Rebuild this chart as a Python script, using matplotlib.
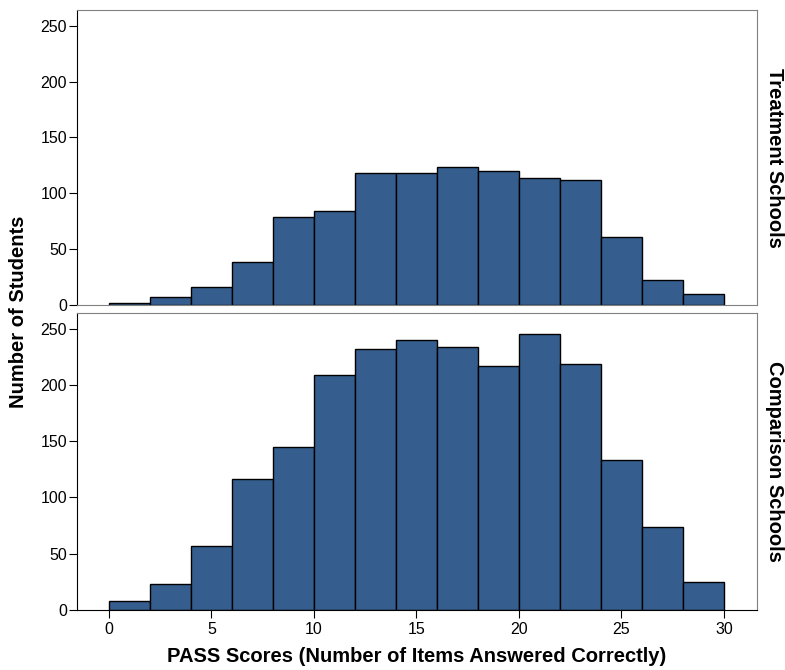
import matplotlib.pyplot as plt
import numpy as np

plt.rcParams['font.family'] = ['Liberation Sans', 'DejaVu Sans']

bin_edges = np.arange(0, 32, 2)
treatment_counts = [2, 7, 16, 38, 79, 84, 118, 118, 123, 120, 114, 112, 61, 22, 10]
comparison_counts = [8, 23, 57, 116, 145, 209, 232, 240, 234, 217, 245, 219, 133, 74, 25]
panel_names = ["Treatment Schools", "Comparison Schools"]

bar_color = "#355e8e"
frame_color = "#808080"

fig = plt.figure(figsize=(7.85, 6.7), dpi=100)
ax1 = fig.add_axes([0.098, 0.545, 0.866, 0.44])
ax2 = fig.add_axes([0.098, 0.0896, 0.866, 0.4434])

for ax, counts, name in [(ax1, treatment_counts, panel_names[0]), (ax2, comparison_counts, panel_names[1])]:
    ax.bar(bin_edges[:-1], counts, width=2, align="edge", color=bar_color,
           edgecolor="black", linewidth=1)
    ax.set_xlim(-1.56, 31.6)
    ax.set_ylim(0, 264)
    ax.set_yticks([0, 50, 100, 150, 200, 250])
    for s in ["top", "right", "bottom"]:
        ax.spines[s].set_color(frame_color)
    ax.spines["left"].set_color("black")
    ax.tick_params(axis="y", labelsize=11.5, length=6, color="black", pad=1)
    ax.text(1.026, 0.5, name, transform=ax.transAxes, rotation=270,
            ha="center", va="center", fontsize=14.5, fontweight="bold")

ax1.tick_params(axis="x", bottom=False, labelbottom=False)
ax2.spines["bottom"].set_color("black")
ax2.set_xticks([0, 5, 10, 15, 20, 25, 30])
ax2.tick_params(axis="x", labelsize=11.5, length=6, color="black", pad=3)

ax2.set_xlabel("PASS Scores (Number of Items Answered Correctly)", fontsize=14.5,
               fontweight="bold", labelpad=7)
fig.text(0.023, 0.535, "Number of Students", rotation=90, ha="center", va="center",
         fontsize=14.5, fontweight="bold")

fig.savefig("out.png", dpi=100)
